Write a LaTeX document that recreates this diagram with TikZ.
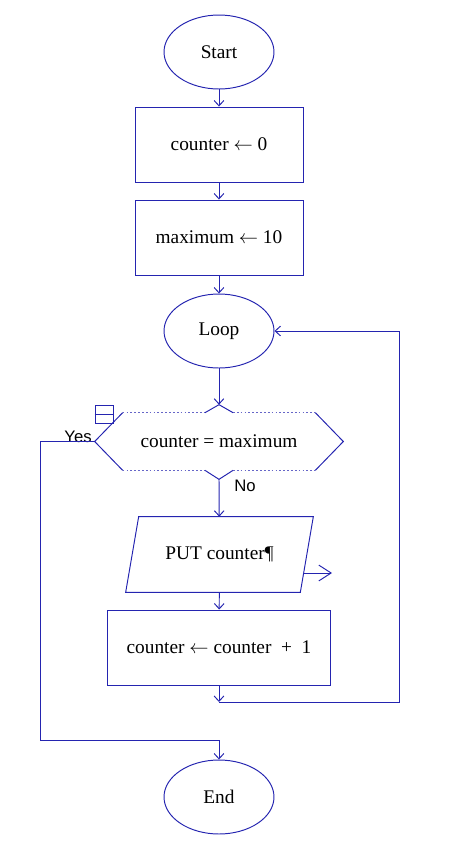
\documentclass[tikz,border=0pt]{standalone}
\usepackage{fontspec}
\setmainfont{Liberation Serif}
\setsansfont{Liberation Sans}
\usetikzlibrary{shapes.geometric, arrows.meta, calc}
\definecolor{flowblue}{RGB}{36,36,176}
\newcommand{\assign}{\ensuremath{\leftarrow}}

\begin{document}
\begin{tikzpicture}[
        x=0.02cm, y=-0.02cm,
        term/.style={ellipse, draw=flowblue, line width=0.55pt, minimum width=2.2cm, minimum height=1.48cm, inner sep=0pt, font=\fontsize{11}{13}\selectfont},
        proc/.style={rectangle, draw=flowblue, line width=0.55pt, minimum width=3.36cm, minimum height=1.5cm, inner sep=0pt, font=\fontsize{11}{13}\selectfont},
        cond/.style={rectangle, minimum width=4.96cm, minimum height=1.14cm, inner sep=0pt, font=\fontsize{11}{13}\selectfont},
        wire/.style={draw=flowblue, line width=0.55pt},
        dots/.style={wire, draw=flowblue!70, dash pattern=on 1pt off 1.2pt},
        flow/.style={wire, -{Straight Barb[length=3pt, width=5.5pt]}},
        tag/.style={font=\sffamily\fontsize{9.5}{11}\selectfont, inner sep=0pt}
    ]
        \useasboundingbox (0,0) rectangle (449,860);
        \node[term] (start) at (219,52) {Start};
        \node[proc] (init) at (219,144.5) {counter \assign{} 0};
        \node[proc] (maxset) at (219,237.5) {maximum \assign{} 10};
        \node[term] (loop) at (219,331) {Loop};
        \node[cond] (test) at (219,441.5) {counter = maximum};
        \node[cond, minimum width=3.48cm, minimum height=1.5cm] (put) at (219.5,554.5) {PUT counter¶};
        \node[proc, minimum width=4.48cm] (incr) at (219,647.5) {counter \assign{} counter~~+~~1};
        \node[term] (finish) at (219,797) {End};
        \node[wire, rectangle, minimum size=0.36cm, inner sep=0pt] (mark) at (104,414) {};
        \node[tag] (yes) at (78,437) {Yes};
        \node[tag] (no) at (245,486) {No};
        \coordinate (join) at (219,702);
        \coordinate (back) at (399,702);
        \coordinate (yesdown) at (40,740);
        \coordinate (out) at (332,573);
        % decision outline
        \draw[wire] ($(test.north west)+(28,0)$) -- (test.west) -- ($(test.south west)+(28,0)$);
        \draw[wire] ($(test.north east)+(-28,0)$) -- (test.east) -- ($(test.south east)+(-28,0)$);
        \draw[dots] ($(test.north west)+(28,0)$) -- ($(test.north)+(-14,0)$);
        \draw[dots] ($(test.north)+(14,0)$) -- ($(test.north east)+(-28,0)$);
        \draw[dots] ($(test.south west)+(28,0)$) -- ($(test.south)+(-14,0)$);
        \draw[dots] ($(test.south)+(14,0)$) -- ($(test.south east)+(-28,0)$);
        \draw[wire] ($(test.north)+(-14,0)$) -- ($(test.north)+(0,-8)$) -- ($(test.north)+(14,0)$);
        \draw[wire] ($(test.south)+(-14,0)$) -- ($(test.south)+(0,9)$) -- ($(test.south)+(14,0)$);
        \draw[wire] (mark.west) -- (mark.east);
        % output outline
        \draw[wire] ($(put.north west)+(6.5,0)$) -- ($(put.north east)+(6.5,0)$) -- ($(put.south east)+(-6.5,0)$) -- ($(put.south west)+(-6.5,0)$) -- cycle;
        % connectors
        \draw[flow] (start) -- (init);
        \draw[flow] (init) -- (maxset);
        \draw[flow] (maxset) -- (loop);
        \draw[flow] (loop) -- ($(test.north)+(0,-8)$);
        \draw[flow] ($(test.south)+(0,9)$) -- (put);
        \draw[flow] (put) -- (incr);
        \draw[flow] (incr) -- (join);
        \draw[flow] (join) -- (back) |- (loop.east);
        \draw[flow] (test.west) -| (yesdown) -| (finish.north);
        \draw[wire, -{Straight Barb[length=7pt, width=9pt]}] ($(put.east |- out)+(-3,0)$) -- (out);
    \end{tikzpicture}
\end{document}
